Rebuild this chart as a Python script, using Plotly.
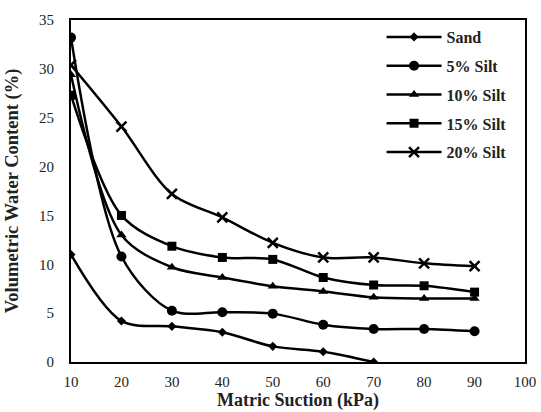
import plotly.graph_objects as go

# Matric suction levels (kPa)
suction = [10, 20, 30, 40, 50, 60, 70, 80, 90]

# Volumetric water content (%) for each soil mix
sand = [11.0, 4.2, 3.65, 3.05, 1.6, 1.05, 0.0]
silt_5 = [33.2, 10.8, 5.25, 5.1, 4.95, 3.82, 3.38, 3.38, 3.15]
silt_10 = [29.4, 13.0, 9.7, 8.65, 7.75, 7.22, 6.62, 6.5, 6.5]
silt_15 = [27.3, 15.0, 11.85, 10.7, 10.5, 8.65, 7.88, 7.8, 7.15]
silt_20 = [30.4, 24.1, 17.2, 14.8, 12.2, 10.7, 10.7, 10.1, 9.8]

series = [
    ("Sand", sand, "diamond", 7),
    ("5% Silt", silt_5, "circle", 10),
    ("10% Silt", silt_10, "triangle-up", 9),
    ("15% Silt", silt_15, "square", 9),
    ("20% Silt", silt_20, "x-thin-open", 10),
]

serif = "Liberation Serif, DejaVu Serif, serif"
fig = go.Figure()
for name, vals, sym, size in series:
    marker = dict(symbol=sym, size=size, color="black")
    if sym.startswith("x-thin"):
        marker["line"] = dict(color="black", width=2.5)
    fig.add_trace(go.Scatter(
        x=suction[:len(vals)], y=vals, name=f"<b>{name}</b>", legendgroup=name,
        mode="lines+markers",
        line=dict(color="black", width=2.5, shape="spline", smoothing=0.9),
        marker=marker,
    ))

axis_common = dict(
    showline=True, linecolor="black", linewidth=2, mirror=True,
    showgrid=False, zeroline=False, ticks="", automargin=False,
    tickfont=dict(family=serif, size=15, color="#222"),
)

fig.update_layout(
    width=541, height=412,
    margin=dict(l=71, r=16, t=20, b=50),
    paper_bgcolor="white", plot_bgcolor="white",
    xaxis=dict(range=[10, 100], dtick=10, tick0=10, ticklabelstandoff=5,
               title=dict(text="<b>Matric Suction (kPa)</b>", standoff=4,
                          font=dict(family=serif, size=18, color="#222")),
               **axis_common),
    yaxis=dict(range=[0, 35], dtick=5, ticklabelstandoff=12,
               title=dict(text="<b>Volumetric Water Content (%)</b>", standoff=16,
                          font=dict(family=serif, size=18.5, color="#222")),
               **axis_common),
    legend=dict(x=0.684, y=1.0, xanchor="left", yanchor="top",
                font=dict(family=serif, size=16, color="#222"),
                bgcolor="rgba(0,0,0,0)", borderwidth=0,
                itemwidth=55, tracegroupgap=5, traceorder="grouped"),
)

fig.write_html("out.html")
